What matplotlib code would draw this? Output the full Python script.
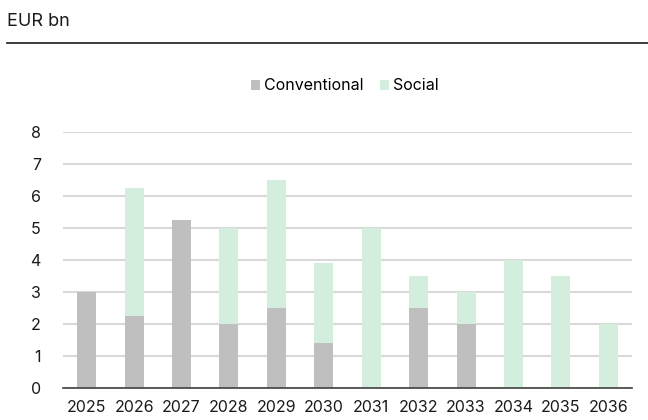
import matplotlib
matplotlib.use("Agg")
import matplotlib.pyplot as plt
import numpy as np

plt.rcParams['font.family'] = ['Inter', 'DejaVu Sans']

years = ['2025', '2026', '2027', '2028', '2029', '2030', '2031', '2032', '2033', '2034', '2035', '2036']
conventional = [3.0, 2.25, 5.25, 2.0, 2.5, 1.4, 0, 2.5, 2.0, 0, 0, 0]
social = [0, 4.0, 0, 3.0, 4.0, 2.5, 5.0, 1.0, 1.0, 4.0, 3.5, 2.0]
yticks = [0, 1, 2, 3, 4, 5, 6, 7, 8]

fig = plt.figure(figsize=(6.48, 4.2), dpi=100)
ax = fig.add_axes([63/648, 32/420, 569/648, 256/420])

x = np.arange(len(years))
c_conv = '#bfbfbf'
c_soc = '#d3eedc'
ax.bar(x, conventional, width=0.4, color=c_conv, label='Conventional', zorder=3)
ax.bar(x, social, width=0.4, bottom=conventional, color=c_soc, label='Social', zorder=3)

ax.set_xlim(-0.5, len(years) - 0.5)
ax.set_ylim(0, 8)
ax.set_yticks(yticks)
ax.set_xticks(x)
ax.set_xticklabels(years)
ax.tick_params(axis='both', length=0, labelsize=11.5, colors='#1a1a1a')
ax.tick_params(axis='x', pad=9)
ax.tick_params(axis='y', pad=16)
ax.grid(axis='y', color='#d9d9d9', linewidth=1.5, zorder=0)
for s in ['top', 'right', 'left']:
    ax.spines[s].set_visible(False)
ax.spines['bottom'].set_color('#404040')
ax.spines['bottom'].set_linewidth(1.2)
ax.spines['bottom'].set_zorder(4)

leg = fig.legend(loc='center', bbox_to_anchor=(345/648, 1 - 86/420), ncol=2, frameon=False,
                 fontsize=11.5, handlelength=0.55, handleheight=0.55, handletextpad=0.3, columnspacing=1.0)

fig.text(7/648, 1 - 21/420, 'EUR bn', fontsize=13, va='center', ha='left', color='#1a1a1a')
fig.add_artist(plt.Line2D([7/648, 1.0], [1 - 43/420, 1 - 43/420], color='#1a1a1a', linewidth=1.2))

fig.savefig('out.png', dpi=100)
